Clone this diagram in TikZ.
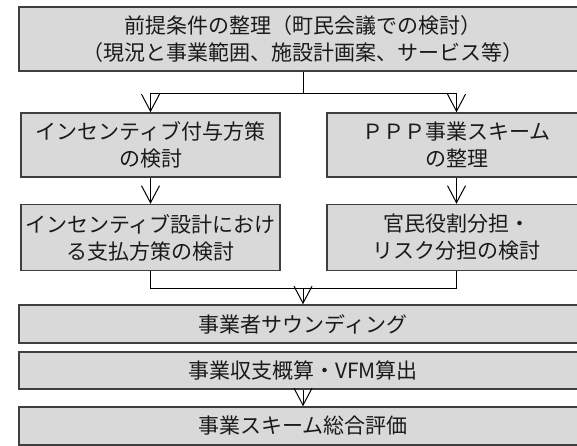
\documentclass[tikz,border=0pt]{standalone}
\usepackage{fontspec}
\setmainfont{Noto Sans CJK JP}
\usetikzlibrary{arrows.meta}
\definecolor{boxfill}{HTML}{D9D9D9}
\definecolor{boxline}{HTML}{3F3F3F}
\definecolor{txt}{HTML}{1A1A1A}
\begin{document}
\begin{tikzpicture}[x=1pt,y=-1pt,
  font=\fontsize{21}{27}\selectfont,
  box/.style={draw=boxline, line width=1.5pt, fill=boxfill, text=txt, inner sep=0pt, align=center},
  wide/.style={box, minimum width=568pt},
  col/.style={box, minimum width=259pt},
  conn/.style={line width=1pt, black},
  arr/.style={conn, -{Straight Barb[length=17pt,width=18pt]}}]
\useasboundingbox (0,0) rectangle (577,445);
\clip (0,0) rectangle (577,445);
\node[wide, minimum height=64pt] (top) at (303,39) {前提条件の整理（町民会議での検討）\\（現況と事業範囲、施設計画案、サービス等）};
\node[col, minimum height=64pt] (L1) at (150.5,145) {インセンティブ付与方策\\の検討};
\node[col, minimum height=64pt] (R1) at (456.5,145) {ＰＰＰ事業スキーム\\の整理};
\node[col, minimum height=66pt] (L2) at (150.5,237.5) {インセンティブ設計におけ\\る支払方策の検討};
\node[col, minimum height=66pt] (R2) at (456.5,237.5) {官民役割分担・\\リスク分担の検討};
\node[wide, minimum height=38pt] (S) at (303,324) {事業者サウンディング};
\node[wide, minimum height=37pt] (V) at (303,370.5) {事業収支概算・VFM算出};
\node[wide, minimum height=38pt] (E) at (303,426) {事業スキーム総合評価};
\coordinate (j1) at (303,93);
\coordinate (j2) at (303,288);
\draw[conn] (top.south) -- (j1);
\draw[arr] (j1) -| (L1.north);
\draw[arr] (j1) -| (R1.north);
\draw[arr] (L1) -- (L2);
\draw[arr] (R1) -- (R2);
\draw[conn] (L2.south) |- (j2);
\draw[conn] (R2.south) |- (j2);
\draw[arr] (j2) -- (S.north);
\draw[arr] (V) -- (E);
\end{tikzpicture}
\end{document}
